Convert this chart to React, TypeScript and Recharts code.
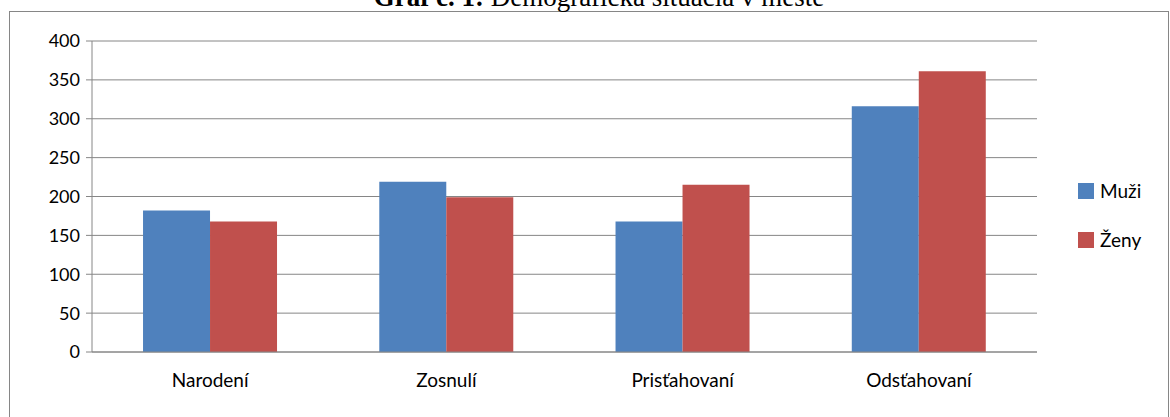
import React from 'react';
import { BarChart, Bar, XAxis, YAxis, CartesianGrid } from 'recharts';

const categories = ['Narodení', 'Zosnulí', 'Prisťahovaní', 'Odsťahovaní'];
const muzi = [182, 219, 168, 316];
const zeny = [168, 199, 215, 361];
const yTicks = [0, 50, 100, 150, 200, 250, 300, 350, 400];
const edgeTicks = [0, 1, 2, 3, 4];
const seriesNames = ['Muži', 'Ženy'];
const seriesColors = ['#4F81BD', '#C0504D'];

const data = categories.map((c, i) => ({ name: c, Muži: muzi[i], Ženy: zeny[i] }));

const AXIS = '#868686';
const FONT = 'Lato, "Open Sans", sans-serif';

export default function App() {
  return (
    <div style={{ position: 'absolute', left: 0, top: 0, width: 1170, height: 417, background: '#fff', overflow: 'hidden' }}>
      <div style={{ position: 'absolute', left: 9, top: 11, width: 1158, height: 420, border: `1px solid ${AXIS}` }} />
      <svg width={1170} height={20} style={{ position: 'absolute', left: 0, top: 0 }}>
        <text x={599} y={6} textAnchor="middle" fontFamily='"Liberation Serif", serif' fontSize={27} fill="#000">
          <tspan fontWeight="bold">Graf č. 1:</tspan> Demografická situácia v meste
        </text>
      </svg>
      <div style={{ position: 'absolute', left: 0, top: 0 }}>
        <BarChart
          width={1170}
          height={417}
          data={data}
          margin={{ top: 41, right: 133, left: 42, bottom: 35 }}
          barCategoryGap="21.6%"
          barGap={0}
        >
          <CartesianGrid vertical={false} stroke={AXIS} strokeWidth={1} />
          <XAxis
            xAxisId="edges"
            type="number"
            domain={[0, 4]}
            ticks={edgeTicks}
            height={0}
            tick={false}
            tickSize={6}
            axisLine={false}
            tickLine={{ stroke: AXIS }}
          />
          <XAxis
            dataKey="name"
            height={30}
            tickLine={false}
            axisLine={{ stroke: AXIS }}
            tickMargin={16}
            tick={{ fill: '#000', fontSize: 19, fontFamily: FONT }}
          />
          <YAxis
            width={50}
            domain={[0, 400]}
            ticks={yTicks}
            interval={0}
            axisLine={{ stroke: AXIS }}
            tickLine={{ stroke: AXIS }}
            tickSize={6}
            tickMargin={6}
            tick={{ fill: '#000', fontSize: 18, fontFamily: FONT }}
          />
          <Bar dataKey="Muži" fill={seriesColors[0]} isAnimationActive={false} />
          <Bar dataKey="Ženy" fill={seriesColors[1]} isAnimationActive={false} />
        </BarChart>
      </div>
      <div style={{ position: 'absolute', left: 1078, top: 166, fontFamily: FONT, fontSize: 19, color: '#000' }}>
        {seriesNames.map((n, i) => (
          <div key={n} style={{ display: 'flex', alignItems: 'center', height: 49 }}>
            <span style={{ width: 16, height: 16, background: seriesColors[i], display: 'inline-block', marginRight: 6 }} />
            <span>{n}</span>
          </div>
        ))}
      </div>
    </div>
  );
}
